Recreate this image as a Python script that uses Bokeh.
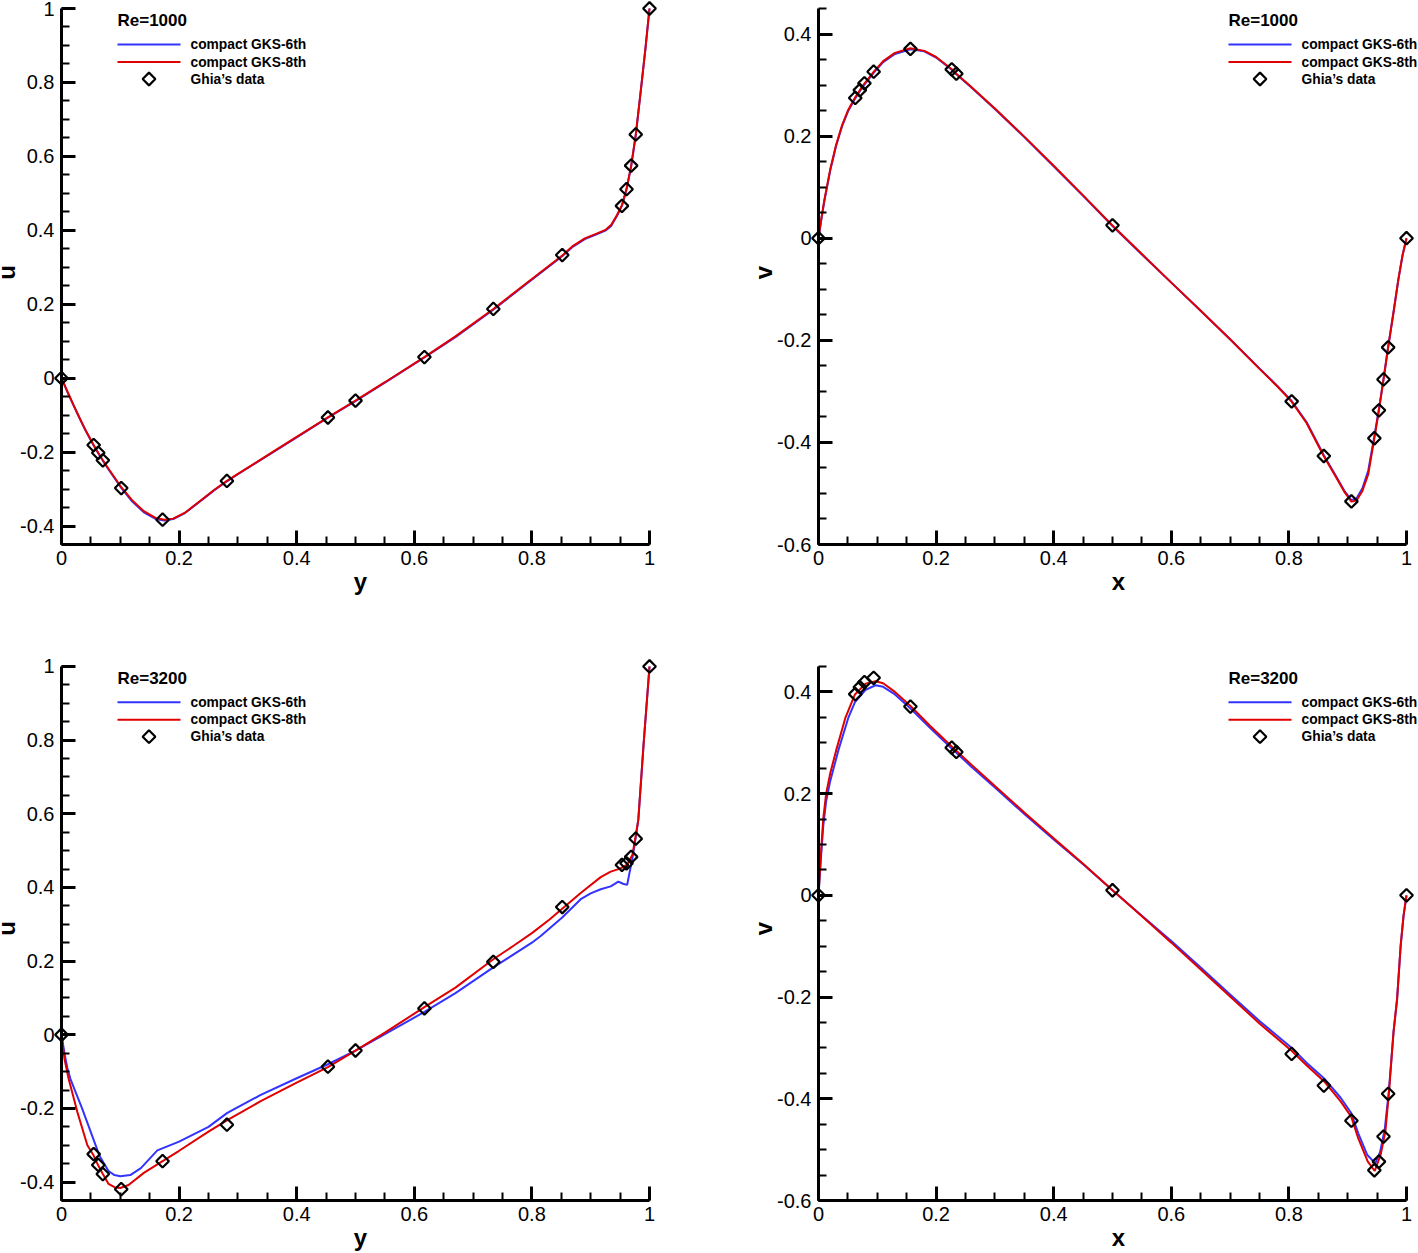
import numpy as np
from bokeh.plotting import figure
from bokeh.layouts import column, row
from bokeh.models import FixedTicker, Label, Range1d
from bokeh.embed import file_html
from bokeh.resources import INLINE

# ---------------- Ghia et al. (1982) reference data ----------------
ghia_y = [1.0000, 0.9766, 0.9688, 0.9609, 0.9531, 0.8516, 0.7344, 0.6172, 0.5000,
          0.4531, 0.2813, 0.1719, 0.1016, 0.0703, 0.0625, 0.0547, 0.0000]
ghia_u_1000 = [1.00000, 0.65928, 0.57492, 0.51117, 0.46604, 0.33304, 0.18719, 0.05702,
               -0.06080, -0.10648, -0.27805, -0.38289, -0.29730, -0.22220, -0.20196, -0.18109, 0.00000]
ghia_u_3200 = [1.00000, 0.53236, 0.48296, 0.46547, 0.46101, 0.34682, 0.19791, 0.07156,
               -0.04272, -0.08664, -0.24427, -0.34323, -0.41933, -0.37827, -0.35344, -0.32407, 0.00000]
ghia_x = [1.0000, 0.9688, 0.9609, 0.9531, 0.9453, 0.9063, 0.8594, 0.8047, 0.5000,
          0.2344, 0.2266, 0.1563, 0.0938, 0.0781, 0.0703, 0.0625, 0.0000]
ghia_v_1000 = [0.00000, -0.21388, -0.27669, -0.33714, -0.39188, -0.51550, -0.42665, -0.31966,
               0.02526, 0.32235, 0.33075, 0.37095, 0.32627, 0.30353, 0.29012, 0.27485, 0.00000]
ghia_v_3200 = [0.00000, -0.39017, -0.47425, -0.52357, -0.54053, -0.44307, -0.37401, -0.31184,
               0.00999, 0.28188, 0.29030, 0.37119, 0.42768, 0.41906, 0.40917, 0.39560, 0.00000]

# ---------------- compact GKS, Re=1000, u(y) ----------------
u1000_y = [0, 0.01, 0.02, 0.03, 0.04, 0.0547, 0.0625, 0.0703, 0.08, 0.09, 0.1016, 0.12, 0.14,
           0.16, 0.175, 0.19, 0.21, 0.24, 0.26, 0.2813, 0.30, 0.33, 0.36, 0.40, 0.4531, 0.50,
           0.55, 0.6172, 0.67, 0.7344, 0.79, 0.8516, 0.87, 0.89, 0.91, 0.925, 0.935, 0.945,
           0.9531, 0.9609, 0.9688, 0.9766, 0.985, 0.993, 1.0]
u1000_8th = [0, -0.036, -0.071, -0.105, -0.138, -0.181, -0.202, -0.222, -0.245, -0.268, -0.295,
             -0.330, -0.360, -0.378, -0.383, -0.380, -0.364, -0.327, -0.302, -0.278, -0.259,
             -0.229, -0.199, -0.159, -0.106, -0.061, -0.011, 0.057, 0.113, 0.187, 0.256, 0.332,
             0.358, 0.378, 0.391, 0.401, 0.415, 0.442, 0.468, 0.512, 0.574, 0.658, 0.775, 0.890, 1.0]
u1000_6th = [0, -0.037, -0.072, -0.106, -0.139, -0.182, -0.203, -0.223, -0.247, -0.270, -0.297,
             -0.333, -0.363, -0.381, -0.385, -0.381, -0.365, -0.328, -0.303, -0.279, -0.260,
             -0.230, -0.200, -0.160, -0.107, -0.062, -0.012, 0.056, 0.111, 0.185, 0.254, 0.330,
             0.356, 0.376, 0.389, 0.399, 0.412, 0.440, 0.466, 0.510, 0.573, 0.657, 0.775, 0.890, 1.0]

# ---------------- compact GKS, Re=1000, v(x) ----------------
v1000_x = [0, 0.005, 0.01, 0.02, 0.03, 0.04, 0.05, 0.0625, 0.0703, 0.0781, 0.0938, 0.11, 0.13,
           0.1563, 0.18, 0.20, 0.2266, 0.2344, 0.26, 0.30, 0.35, 0.40, 0.45, 0.50, 0.55, 0.60,
           0.65, 0.70, 0.75, 0.78, 0.8047, 0.83, 0.8594, 0.88, 0.895, 0.9063, 0.915, 0.925, 0.935,
           0.9453, 0.9531, 0.9609, 0.9688, 0.978, 0.986, 0.993, 1.0]
v1000_8th = [0, 0.040, 0.075, 0.135, 0.183, 0.221, 0.250, 0.276, 0.290, 0.303, 0.326, 0.347,
             0.363, 0.372, 0.367, 0.355, 0.331, 0.322, 0.296, 0.254, 0.199, 0.142, 0.084, 0.025,
             -0.031, -0.087, -0.142, -0.198, -0.256, -0.290, -0.320, -0.362, -0.427, -0.468,
             -0.498, -0.516, -0.514, -0.495, -0.462, -0.392, -0.337, -0.277, -0.214, -0.145,
             -0.082, -0.035, 0]
v1000_6th = [0, 0.038, 0.073, 0.133, 0.181, 0.219, 0.248, 0.274, 0.288, 0.301, 0.324, 0.345,
             0.361, 0.370, 0.366, 0.354, 0.330, 0.321, 0.295, 0.253, 0.198, 0.141, 0.083, 0.024,
             -0.032, -0.087, -0.142, -0.198, -0.255, -0.289, -0.319, -0.360, -0.425, -0.466,
             -0.496, -0.513, -0.510, -0.490, -0.455, -0.388, -0.335, -0.276, -0.213, -0.144,
             -0.082, -0.035, 0]

# ---------------- compact GKS, Re=3200, u(y) ----------------
u3200_y8 = [0, 0.005, 0.012, 0.027, 0.044, 0.0547, 0.061, 0.0703, 0.08, 0.09, 0.1, 0.114, 0.14,
            0.172, 0.2, 0.25, 0.282, 0.338, 0.4, 0.4531, 0.5, 0.55, 0.6172, 0.67, 0.7344, 0.77,
            0.8, 0.83, 0.852, 0.883, 0.917, 0.934, 0.95, 0.962, 0.971, 0.976, 0.981, 0.99, 1.0]
u3200_8th = [0, -0.065, -0.119, -0.210, -0.300, -0.328, -0.350, -0.378, -0.405, -0.414, -0.416,
             -0.408, -0.375, -0.343, -0.315, -0.263, -0.232, -0.181, -0.130, -0.088, -0.043,
             0.006, 0.075, 0.128, 0.205, 0.243, 0.276, 0.313, 0.343, 0.385, 0.428, 0.443, 0.451,
             0.462, 0.489, 0.535, 0.584, 0.790, 1.0]
u3200_y6 = [0, 0.005, 0.01, 0.015, 0.025, 0.035, 0.05, 0.065, 0.08, 0.09, 0.1, 0.117, 0.135,
            0.163, 0.2, 0.25, 0.282, 0.338, 0.4, 0.4531, 0.5, 0.55, 0.6172, 0.67, 0.7344, 0.8,
            0.815, 0.852, 0.883, 0.9, 0.917, 0.934, 0.947, 0.955, 0.962, 0.971, 0.976, 0.981,
            0.99, 1.0]
u3200_6th = [0, -0.050, -0.090, -0.119, -0.160, -0.200, -0.265, -0.330, -0.370, -0.381, -0.384,
             -0.381, -0.362, -0.314, -0.290, -0.250, -0.212, -0.164, -0.118, -0.080, -0.043,
             0.002, 0.062, 0.113, 0.183, 0.250, 0.268, 0.319, 0.368, 0.384, 0.395, 0.403, 0.416,
             0.410, 0.407, 0.480, 0.530, 0.584, 0.790, 1.0]

# ---------------- compact GKS, Re=3200, v(x) ----------------
v3200_x8 = [0, 0.004, 0.008, 0.013, 0.02, 0.03, 0.046, 0.062, 0.08, 0.097, 0.11, 0.13, 0.156,
            0.19, 0.227, 0.26, 0.30, 0.35, 0.40, 0.45, 0.50, 0.55, 0.60, 0.65, 0.70, 0.75, 0.805,
            0.83, 0.86, 0.888, 0.906, 0.918, 0.934, 0.946, 0.956, 0.964, 0.970, 0.978, 0.984,
            0.990, 0.995, 1.0]
v3200_8th = [0, 0.080, 0.150, 0.200, 0.240, 0.285, 0.350, 0.395, 0.416, 0.421, 0.417, 0.400,
             0.373, 0.333, 0.292, 0.257, 0.215, 0.163, 0.112, 0.062, 0.010, -0.041, -0.093,
             -0.146, -0.199, -0.252, -0.306, -0.334, -0.366, -0.405, -0.435, -0.478, -0.523,
             -0.542, -0.510, -0.465, -0.390, -0.268, -0.204, -0.100, -0.040, 0]
v3200_x6 = [0, 0.004, 0.008, 0.013, 0.02, 0.034, 0.051, 0.062, 0.08, 0.097, 0.11, 0.13, 0.156,
            0.19, 0.227, 0.26, 0.30, 0.35, 0.40, 0.45, 0.50, 0.55, 0.60, 0.65, 0.70, 0.75, 0.805,
            0.83, 0.86, 0.888, 0.906, 0.918, 0.933, 0.947, 0.955, 0.963, 0.970, 0.978, 0.984,
            0.990, 0.995, 1.0]
v3200_6th = [0, 0.070, 0.135, 0.185, 0.225, 0.286, 0.350, 0.380, 0.404, 0.413, 0.410, 0.395,
             0.368, 0.329, 0.288, 0.253, 0.212, 0.160, 0.110, 0.061, 0.010, -0.040, -0.090,
             -0.142, -0.195, -0.247, -0.300, -0.329, -0.360, -0.398, -0.428, -0.468, -0.510,
             -0.527, -0.505, -0.460, -0.385, -0.268, -0.204, -0.100, -0.040, 0]

# ---------------- ticks & labels ----------------
unit_major = [0, 0.2, 0.4, 0.6, 0.8, 1]
u_major = [-0.4, -0.2, 0, 0.2, 0.4, 0.6, 0.8, 1]
v_major = [-0.6, -0.4, -0.2, 0, 0.2, 0.4]
tick_text = {-0.6: "-0.6", -0.4: "-0.4", -0.2: "-0.2", 0: "0", 0.2: "0.2", 0.4: "0.4",
             0.6: "0.6", 0.8: "0.8", 1: "1"}

BLUE = "#3333ff"
RED = "#e00000"
FONT = "Liberation Sans"
AW, AH = 588, 536        # pixel length of the drawn x and y axes
CANVAS_SHIFT = 10        # left canvas edge sits this far outside the page


def minor(lo, hi):
    n0, n1 = int(round(lo / 0.05)), int(round(hi / 0.05))
    return [round(i * 0.05, 2) for i in range(n0, n1 + 1)]


def make_panel(xlab, ylab, yr, yticks, title, xs6, ys6, xs8, ys8, gx, gy,
               top, bottom, left, right, pad_r, pad_t, leg_x):
    # the frame reaches a few pixels past the axes' ends so edge markers are not cut
    sy = AH / (yr[1] - yr[0])
    x_rng = Range1d(0, 1 + pad_r / AW)
    y_rng = Range1d(yr[0], yr[1] + pad_t / sy)
    p = figure(width=left + AW + pad_r + right, height=top + AH + pad_t + bottom,
               x_range=x_rng, y_range=y_rng,
               min_border_left=left, min_border_right=right,
               min_border_top=top, min_border_bottom=bottom,
               output_backend="svg", toolbar_location=None)
    p.outline_line_color = None
    p.xgrid.visible = False
    p.ygrid.visible = False
    p.xaxis.ticker = FixedTicker(ticks=unit_major, minor_ticks=minor(0, 1))
    p.yaxis.ticker = FixedTicker(ticks=yticks, minor_ticks=minor(yr[0], yr[1]))
    p.xaxis.bounds = (0, 1)
    p.yaxis.bounds = (yr[0], yr[1])
    for ax in (p.xaxis[0], p.yaxis[0]):
        ax.axis_line_width = 3
        ax.major_tick_in = 14
        ax.major_tick_out = 0
        ax.major_tick_line_width = 3
        ax.minor_tick_in = 8
        ax.minor_tick_out = 0
        ax.minor_tick_line_width = 2
        ax.major_label_text_font = FONT
        ax.major_label_text_font_size = "20px"
        ax.major_label_text_color = "black"
        ax.axis_label_text_font = FONT
        ax.axis_label_text_font_size = "24px"
        ax.axis_label_text_font_style = "bold"
        ax.axis_label_text_color = "black"
        ax.major_label_overrides = tick_text
    p.xaxis.axis_label = xlab
    p.yaxis.axis_label = ylab
    p.xaxis.major_label_standoff = 6
    p.yaxis.major_label_standoff = 7
    p.xaxis.axis_label_standoff = 0
    p.yaxis.axis_label_standoff = -3

    p.line(xs6, ys6, line_color=BLUE, line_width=2)
    p.line(xs8, ys8, line_color=RED, line_width=2)
    p.scatter(gx, gy, marker="square", angle=np.pi / 4, size=9, fill_color=None,
              line_color="black", line_width=2.2, level="overlay")

    # legend block (positions in pixels from the axes' top-left corner)
    def X(px):
        return (leg_x + px) / AW

    def Y(py):
        return yr[1] - py / sy

    lab = dict(text_font=FONT, text_font_style="bold", text_baseline="middle",
               text_align="left", text_color="black")
    p.add_layout(Label(x=X(0), y=Y(12), text=title, text_font_size="17px", **lab))
    p.line([X(0), X(63)], [Y(36), Y(36)], line_color=BLUE, line_width=2)
    p.line([X(0), X(63)], [Y(53.5), Y(53.5)], line_color=RED, line_width=2)
    p.scatter([X(31.5)], [Y(70.5)], marker="square", angle=np.pi / 4, size=9,
              fill_color=None, line_color="black", line_width=2.2)
    for t, yy in (("compact GKS-6th", 36), ("compact GKS-8th", 53.5), ("Ghia\u2019s data", 70.5)):
        p.add_layout(Label(x=X(73), y=Y(yy), text=t, text_font_size="13.8px", **lab))
    return p


U_RANGE = (-0.45, 1.0)
V_RANGE = (-0.6, 0.45)

# left column: axis at page x=61, right column: axis at page x=818
p1 = make_panel("y", "u", U_RANGE, u_major, "Re=1000", u1000_y, u1000_6th, u1000_y, u1000_8th,
                ghia_y, ghia_u_1000, 0, 70, 71, 50, 10, 8, 56)
p2 = make_panel("x", "v", V_RANGE, v_major, "Re=1000", v1000_x, v1000_6th, v1000_x, v1000_8th,
                ghia_x, ghia_v_1000, 0, 70, 109, 0, 12, 8, 410)
p3 = make_panel("y", "u", U_RANGE, u_major, "Re=3200", u3200_y6, u3200_6th, u3200_y8, u3200_8th,
                ghia_y, ghia_u_3200, 42, 51, 71, 50, 10, 10, 56)
p4 = make_panel("x", "v", V_RANGE, v_major, "Re=3200", v3200_x6, v3200_6th, v3200_x8, v3200_8th,
                ghia_x, ghia_v_3200, 42, 51, 109, 0, 12, 10, 410)

layout = column(row(p1, p2), row(p3, p4))
layout.margin = (0, 0, 0, -CANVAS_SHIFT)

open("out.html", "w").write(file_html(layout, INLINE))
